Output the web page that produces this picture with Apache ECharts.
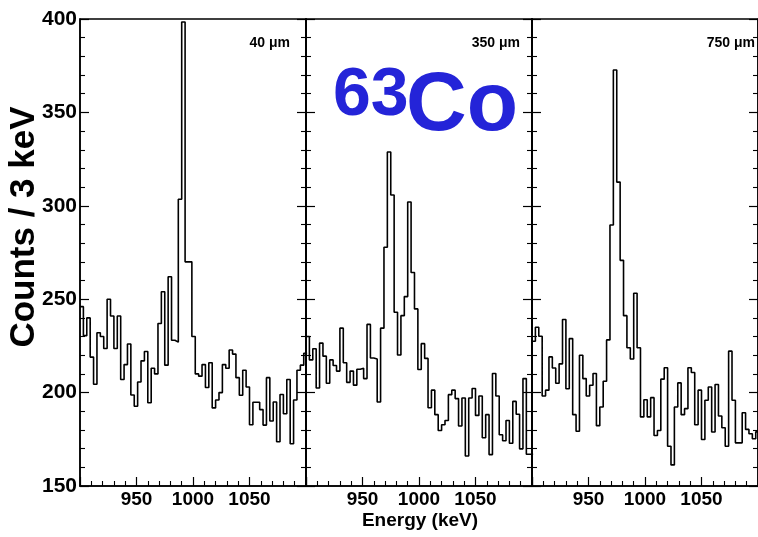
<!DOCTYPE html>
<html>
<head>
<meta charset="utf-8">
<script src="https://cdn.jsdelivr.net/npm/echarts@6/dist/echarts.min.js"></script>
<style>
html,body{margin:0;padding:0;background:#fff;}
#chart{width:758px;height:537px;}
</style>
</head>
<body>
<div id="chart"></div>
<script>
// ---- data (counts per 3 keV bin, bins starting at 900 keV) ----
const binStart = 900;
const binWidth = 3;
const panelLabels = ['40 \u03bcm', '350 \u03bcm', '750 \u03bcm'];
const xTicks = [950, 1000, 1050];
const yTicks = [150, 200, 250, 300, 350, 400];

const counts40 = [246, 230.5, 240, 219, 204.5, 232, 230, 223.6, 250, 241, 223.6, 241, 207, 215, 226, 198.7, 192.7, 205.7, 217, 222, 194.6, 213, 210, 237, 254, 214.7, 262, 228, 227, 303.5, 398.4, 270, 270, 230, 210, 208.8, 215, 202.7, 216, 191.8, 196, 200, 215, 213, 222.8, 220.6, 208, 198.6, 212, 203, 182.8, 194.8, 194.8, 190.9, 182.6, 208, 184.8, 195, 173.7, 199, 188.7, 207, 172.6, 196, 212, 214.7, 221];

const counts350 = [230, 217.5, 223.5, 202.5, 226.5, 219.5, 205, 217.5, 214.5, 211.5, 234.5, 216, 205.5, 211.5, 204, 212.5, 213, 207.5, 236.5, 218.5, 218, 195, 234.5, 277.8, 328.8, 305.8, 243.0, 220.1, 241.2, 251.4, 302, 264.3, 244.8, 212.4, 226.2, 218.3, 191.9, 201.3, 188.2, 179.7, 182.8, 185.1, 198.9, 201.3, 196.8, 182.1, 197.1, 166.1, 197.1, 202.2, 187.8, 198.2, 175.8, 188.2, 166.8, 210.2, 198.2, 177.4, 174.2, 185.1, 172.9, 195.3, 188.4, 169.9, 207.5, 167.0, 167.0];

const counts750 = [227.5, 235, 230.2, 198.2, 201.3, 219.1, 213.2, 205, 215.4, 239.1, 202.1, 228.9, 188.2, 179.3, 220, 207.5, 198.2, 203.9, 210.2, 182.3, 192.3, 206.1, 228.2, 289.7, 372.7, 312.7, 270.8, 241.2, 224, 218, 253.2, 224, 187, 196.2, 187, 197.3, 177, 179.7, 207.2, 213.3, 171.3, 161.3, 192.3, 205.2, 188.2, 191.4, 213.3, 210.8, 182.8, 201.3, 174.9, 195.9, 203, 178.9, 204.3, 187.5, 181.2, 171.3, 222.2, 195.9, 173.1, 173.1, 189.2, 180.3, 178, 175.3, 179];

const panels = [counts40, counts350, counts750];

// ---- build ----
const SANS = "'Liberation Sans', Arial, Helvetica, sans-serif";

function histPoints(vals) {
  const pts = vals.map((v, i) => [binStart + binWidth * i, v]);
  // closing edge of the last bin
  pts.push([binStart + binWidth * vals.length, vals[vals.length - 1]]);
  return pts;
}

const gridDefs = [
  {left: 80, width: 226},
  {left: 306, width: 226},
  {left: 532, width: 228}
];

const grids = gridDefs.map(g => ({
  left: g.left, width: g.width, top: 19, height: 467,
  show: true, borderColor: '#000', borderWidth: 1.5, backgroundColor: 'transparent'
}));

const axisLineStyle = {show: true, lineStyle: {color: '#000', width: 1.5}};

const xAxes = gridDefs.map((g, k) => ({
  gridIndex: k, type: 'value', min: 900, max: 1100, interval: 50,
  axisLine: axisLineStyle,
  axisTick: {show: true, inside: true, length: 9, lineStyle: {color: '#000', width: 1.2}},
  minorTick: {show: true, splitNumber: 5, length: 5, lineStyle: {color: '#000', width: 1.1}},
  splitLine: {show: false},
  axisLabel: {
    show: true, showMinLabel: false, showMaxLabel: false, margin: 4,
    color: '#000', fontFamily: SANS, fontWeight: 'bold', fontSize: 19,
    formatter: v => (xTicks.indexOf(v) >= 0 ? String(v) : '')
  }
}));

const yAxes = [];
gridDefs.forEach((g, k) => {
  ['left', 'right'].forEach(pos => {
    yAxes.push({
      gridIndex: k, type: 'value', position: pos, min: 150, max: 400, interval: 50,
      axisLine: axisLineStyle,
      axisTick: {show: true, inside: true, length: 9, lineStyle: {color: '#000', width: 1.2}},
      minorTick: {show: true, splitNumber: 5, length: 5, lineStyle: {color: '#000', width: 1.1}},
      splitLine: {show: false},
      axisLabel: {
        show: (k === 0 && pos === 'left'), margin: 3,
        color: '#000', fontFamily: SANS, fontWeight: 'bold', fontSize: 21,
        formatter: v => (yTicks.indexOf(v) >= 0 ? String(v) : '')
      }
    });
  });
});

const series = panels.map((vals, k) => ({
  type: 'line', xAxisIndex: k, yAxisIndex: 2 * k, step: 'end',
  data: histPoints(vals), showSymbol: false, symbol: 'none',
  clip: true, silent: true,
  lineStyle: {color: '#000', width: 1.6}
}));

const labelRights = [290, 520, 755];
const graphics = panelLabels.map((t, k) => ({
  type: 'text', x: labelRights[k], y: 43,
  style: {text: t, fill: '#000', font: 'bold 14px ' + SANS, align: 'right', verticalAlign: 'middle'}
}));
graphics.push(
  {type: 'text', x: 333, y: 96, style: {text: '63', fill: '#2424d8', font: 'bold 68px ' + SANS, align: 'left', verticalAlign: 'middle'}},
  {type: 'text', x: 406, y: 107, style: {text: 'Co', fill: '#2424d8', font: 'bold 84px ' + SANS, align: 'left', verticalAlign: 'middle'}},
  {type: 'text', x: 24, y: 227, rotation: Math.PI / 2,
   style: {text: 'Counts / 3 keV', fill: '#000', font: 'bold 35px ' + SANS, align: 'center', verticalAlign: 'middle'}},
  {type: 'text', x: 420, y: 521,
   style: {text: 'Energy (keV)', fill: '#000', font: 'bold 19px ' + SANS, align: 'center', verticalAlign: 'middle'}}
);

const chart = echarts.init(document.getElementById('chart'), null, {renderer: 'canvas'});
chart.setOption({
  animation: false,
  backgroundColor: '#fff',
  grid: grids,
  xAxis: xAxes,
  yAxis: yAxes,
  series: series,
  graphic: graphics
});
</script>
</body>
</html>
